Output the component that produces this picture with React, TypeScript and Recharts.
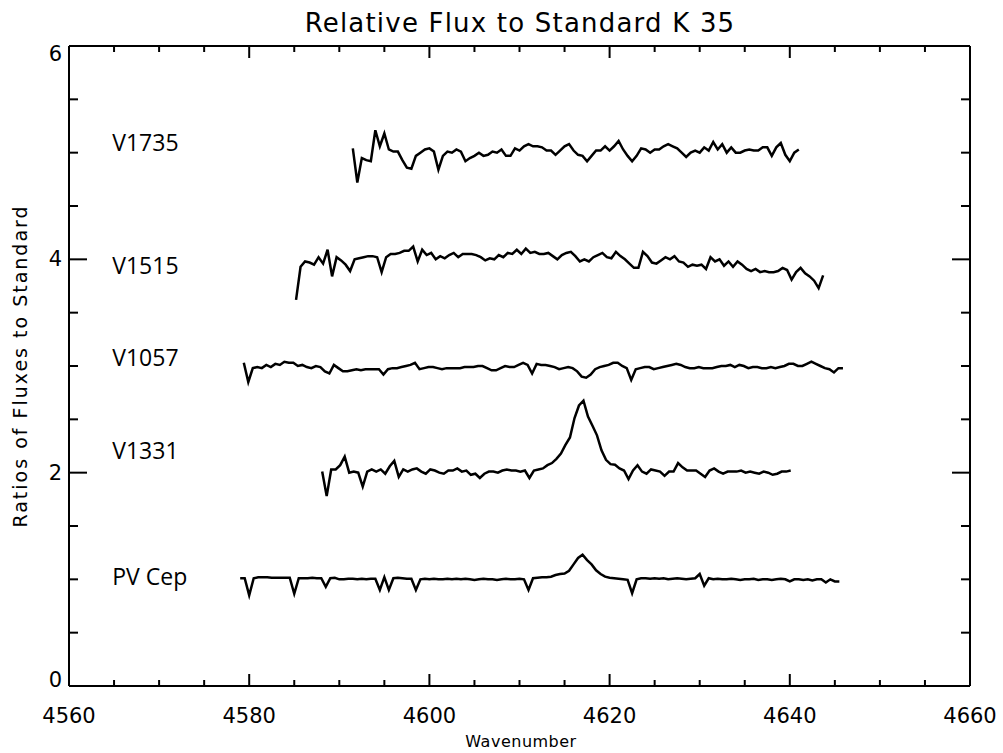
import { LineChart, Line, XAxis, YAxis, ReferenceDot } from 'recharts';

// sampling step of every spectrum (wavenumber units)
const STEP = 0.5;

const V1735_START = 4591.5;
const V1735 = [
  5.04, 4.72, 4.95, 4.93, 4.92, 5.21, 5.06, 5.18, 5.03, 5.01,
  5.01, 4.93, 4.86, 4.85, 4.97, 5.0, 5.03, 5.04, 5.01, 4.84,
  4.97, 5.01, 5.0, 5.03, 5.01, 4.92, 4.95, 4.97, 5.0, 4.97,
  4.98, 5.01, 5.0, 5.03, 4.97, 4.97, 5.04, 5.02, 5.06, 5.08,
  5.06, 5.06, 5.05, 5.02, 5.02, 4.98, 5.02, 5.06, 5.08, 5.02,
  4.98, 4.97, 4.92, 4.97, 5.02, 5.02, 5.06, 5.02, 5.06, 5.11,
  5.03, 4.97, 4.92, 4.97, 5.04, 5.03, 5.0, 5.03, 5.03, 5.06,
  5.08, 5.06, 5.04, 5.0, 4.96, 5.0, 5.02, 5.0, 5.05, 5.02,
  5.1, 5.03, 5.08, 5.0, 5.05, 5.0, 5.0, 5.02, 5.03, 5.02,
  5.02, 5.05, 5.05, 4.97, 5.05, 5.09, 4.98, 4.92, 5.0, 5.03,
];

const V1515_START = 4585.2;
const V1515 = [
  3.62, 3.93, 3.98, 3.97, 3.95, 4.02, 3.96, 4.09, 3.84, 4.02,
  3.99, 3.95, 3.89, 4.0, 4.01, 4.02, 4.03, 4.03, 4.02, 3.88,
  4.02, 4.05, 4.05, 4.06, 4.08, 4.08, 4.12, 3.98, 4.09, 4.04,
  4.06, 4.0, 4.03, 4.01, 4.04, 4.06, 4.02, 4.05, 4.05, 4.05,
  4.04, 4.02, 3.99, 4.01, 4.0, 4.04, 4.02, 4.06, 4.05, 4.09,
  4.05, 4.1, 4.06, 4.07, 4.05, 4.05, 4.06, 4.03, 4.0, 4.04,
  4.06, 4.07, 4.03, 3.98, 4.0, 3.98, 4.02, 4.04, 4.06, 4.02,
  4.01, 4.07, 4.03, 4.0, 3.96, 3.92, 3.92, 4.07, 4.03, 3.97,
  3.96, 3.99, 4.02, 4.0, 4.03, 3.98, 3.97, 3.93, 3.95, 3.94,
  3.95, 3.91, 4.02, 3.98, 4.0, 3.94, 3.98, 3.93, 3.98, 3.95,
  3.91, 3.89, 3.91, 3.88, 3.89, 3.88, 3.88, 3.89, 3.92, 3.9,
  3.81, 3.88, 3.92, 3.87, 3.84, 3.8, 3.73, 3.85,
];

const V1057_START = 4579.4;
const V1057 = [
  3.03, 2.85, 2.98, 2.99, 2.98, 3.01, 2.99, 3.02, 3.01, 3.04,
  3.03, 3.03, 3.0, 3.01, 2.99, 2.98, 3.0, 2.99, 2.95, 2.93,
  3.01, 2.98, 2.95, 2.95, 2.96, 2.97, 2.96, 2.97, 2.97, 2.97,
  2.97, 2.92, 2.97, 2.98, 2.98, 2.99, 3.0, 3.01, 3.03, 2.97,
  2.98, 2.99, 2.99, 2.98, 2.97, 2.98, 2.98, 2.98, 2.98, 2.99,
  2.99, 2.99, 3.0, 3.0, 2.98, 2.96, 2.96, 2.98, 3.0, 2.99,
  2.99, 3.01, 3.03, 3.01, 2.93, 3.02, 3.01, 3.01, 3.0, 2.99,
  2.97, 2.98, 2.99, 2.98, 2.95, 2.9, 2.89, 2.92, 2.97, 2.99,
  3.0, 3.01, 3.03, 3.03, 3.0, 2.98, 2.87, 2.97, 2.98, 2.99,
  2.99, 2.97, 2.98, 2.99, 3.0, 3.01, 3.02, 3.01, 2.99, 2.98,
  2.98, 2.99, 2.98, 2.98, 2.98, 2.99, 3.0, 3.0, 3.01, 2.99,
  3.01, 3.0, 2.98, 2.99, 2.99, 2.98, 2.98, 2.99, 2.98, 2.99,
  3.0, 3.02, 3.02, 3.0, 3.0, 3.02, 3.04, 3.02, 3.0, 2.98,
  2.97, 2.94, 2.98, 2.98,
];

const V1331_START = 4588.1;
const V1331 = [
  2.01, 1.78, 2.03, 2.03, 2.07, 2.15, 2.0, 2.01, 2.0, 1.87,
  2.01, 2.03, 2.01, 2.03, 1.99, 2.06, 2.11, 1.96, 2.03, 2.01,
  2.03, 2.04, 2.01, 1.99, 2.03, 2.02, 2.0, 1.99, 2.02, 2.02,
  2.04, 2.01, 2.02, 1.98, 1.99, 1.95, 1.99, 2.01, 2.01, 2.0,
  2.02, 2.03, 2.02, 2.02, 2.01, 2.02, 1.95, 2.02, 2.03, 2.04,
  2.07, 2.09, 2.13, 2.18, 2.26, 2.33, 2.51, 2.63, 2.675, 2.525,
  2.44, 2.35, 2.21, 2.12, 2.08, 2.075, 2.04, 2.02, 1.94, 2.02,
  2.07, 2.01, 1.99, 2.03, 2.02, 2.01, 1.97, 2.01, 2.01, 2.09,
  2.05, 2.02, 2.02, 2.02, 1.99, 1.96, 2.02, 2.04, 2.01, 1.99,
  2.01, 2.01, 2.01, 2.02, 2.0, 2.01, 2.0, 1.99, 2.01, 2.0,
  1.98, 1.99, 2.01, 2.01, 2.02,
];

const PVCEP_START = 4579.0;
const PVCEP = [
  1.01, 1.01, 0.85, 1.01, 1.02, 1.02, 1.02, 1.015, 1.015, 1.015,
  1.015, 1.015, 0.865, 1.01, 1.01, 1.01, 1.015, 1.01, 1.01, 0.93,
  1.01, 1.015, 1.0, 1.0, 1.005, 1.005, 1.0, 1.005, 1.0, 1.005,
  1.005, 0.9, 1.02, 0.9, 1.01, 1.015, 1.01, 1.005, 1.005, 0.9,
  1.0, 1.005, 1.0, 1.005, 1.0, 1.0, 1.005, 1.0, 1.005, 1.0,
  1.005, 1.0, 0.995, 1.0, 1.005, 1.0, 1.0, 0.995, 1.0, 1.005,
  1.0, 1.0, 1.005, 1.0, 0.9, 1.01, 1.015, 1.02, 1.02, 1.025,
  1.04, 1.05, 1.055, 1.08, 1.14, 1.2, 1.23, 1.18, 1.14, 1.085,
  1.05, 1.025, 1.015, 1.01, 1.005, 1.0, 0.995, 0.87, 1.0, 1.01,
  1.01, 1.005, 1.01, 1.005, 1.01, 1.0, 1.005, 1.01, 1.005, 1.0,
  1.005, 1.01, 1.05, 0.94, 1.01, 1.0, 1.005, 1.0, 1.0, 1.005,
  1.0, 0.995, 1.0, 1.0, 1.005, 0.995, 1.0, 1.0, 0.995, 1.0,
  1.005, 1.0, 0.98, 1.0, 1.0, 0.995, 1.0, 0.99, 1.0, 1.0,
  0.97, 1.0, 0.98, 0.98,
];

const STAR_NAMES = ['V1735', 'V1515', 'V1057', 'V1331', 'PV Cep'];
const LABEL_W = 4564.8;
const LABEL_Y = [5.09, 3.94, 3.08, 2.2, 1.02];

const X_TICKS = [
  4560, 4565, 4570, 4575, 4580, 4585, 4590, 4595, 4600, 4605, 4610,
  4615, 4620, 4625, 4630, 4635, 4640, 4645, 4650, 4655, 4660,
];
const Y_TICKS = [0, 0.5, 1, 1.5, 2, 2.5, 3, 3.5, 4, 4.5, 5, 5.5, 6];

const toPoints = (start: number, values: number[]) =>
  values.map((v, i) => ({ w: Math.round((start + i * STEP) * 100) / 100, v }));

const SERIES = [
  toPoints(V1735_START, V1735),
  toPoints(V1515_START, V1515),
  toPoints(V1057_START, V1057),
  toPoints(V1331_START, V1331),
  toPoints(PVCEP_START, PVCEP),
];

const AXIS_FONT = '"DejaVu Sans", sans-serif';

// the top edge ticks, drawn through a top XAxis of their own
// (Recharts skips axis ticks when the axis has no series bound to it)
const TOP_TICK_DATA = X_TICKS.map((t) => ({ w: t, v: 6 }));

// ticks point inwards, like the IDL frame; majors carry the labels
function BottomTick({ x, y, payload }: any) {
  const major = payload.value % 20 === 0;
  return (
    <g>
      <line x1={x} x2={x} y1={y} y2={y - (major ? 12 : 6)} stroke="#000" strokeWidth={2} />
      {major && (
        <text x={x} y={y + 30} textAnchor="middle" dominantBaseline="central" fontSize={21} fontFamily={AXIS_FONT} fill="#000">
          {payload.value}
        </text>
      )}
    </g>
  );
}

// top orientation: the tick anchor sits tickSize + tickMargin above the axis line
function TopTick({ x, y, payload }: any) {
  const major = payload.value % 20 === 0;
  const base = y + 4;
  return <line x1={x} x2={x} y1={base} y2={base + (major ? 12 : 6)} stroke="#000" strokeWidth={2} />;
}

function LeftTick({ x, y, payload }: any) {
  const major = payload.value % 2 === 0;
  const shift = payload.value === 6 ? 8 : payload.value === 0 ? -6 : 0;
  return (
    <g>
      <line x1={x} x2={x + (major ? 18 : 9)} y1={y} y2={y} stroke="#000" strokeWidth={2} />
      {major && (
        <text x={x - 7} y={y + shift} textAnchor="end" dominantBaseline="central" fontSize={21} fontFamily={AXIS_FONT} fill="#000">
          {payload.value}
        </text>
      )}
    </g>
  );
}

function RightTick({ x, y, payload }: any) {
  const major = payload.value % 2 === 0;
  return <line x1={x} x2={x - (major ? 18 : 9)} y1={y} y2={y} stroke="#000" strokeWidth={2} />;
}

export default function App() {
  return (
    <div style={{ position: 'absolute', left: 0, top: 0, width: 1003, height: 753, background: '#fff' }}>
      <LineChart width={1003} height={753} margin={{ top: 36, right: 23, bottom: 27, left: 29 }}>
        <XAxis
          dataKey="w" type="number" domain={[4560, 4660]} ticks={X_TICKS} interval={0}
          allowDataOverflow height={40} tickSize={0} tickMargin={0} tickLine={false}
          axisLine={{ stroke: '#000', strokeWidth: 2 }} tick={BottomTick}
        />
        <XAxis
          xAxisId="top" orientation="top" dataKey="w" type="number" domain={[4560, 4660]} ticks={X_TICKS}
          interval={0} allowDataOverflow height={10} tickSize={2} tickMargin={2} tickLine={false}
          axisLine={{ stroke: '#000', strokeWidth: 2 }} tick={TopTick}
        />
        <YAxis
          type="number" domain={[0, 6]} ticks={Y_TICKS} interval={0} allowDataOverflow width={40}
          tickSize={0} tickMargin={0} tickLine={false} axisLine={{ stroke: '#000', strokeWidth: 2 }}
          tick={LeftTick}
        />
        <YAxis
          yAxisId="right" orientation="right" type="number" domain={[0, 6]} ticks={Y_TICKS} interval={0}
          allowDataOverflow width={10} tickSize={0} tickMargin={0} tickLine={false}
          axisLine={{ stroke: '#000', strokeWidth: 2 }} tick={RightTick}
        />
        {SERIES.map((data, i) => (
          <Line
            key={STAR_NAMES[i]} data={data} dataKey="v" type="linear" stroke="#000" strokeWidth={2.5}
            dot={false} activeDot={false} isAnimationActive={false}
          />
        ))}
        {/* invisible series so the mirrored top/right axes get a domain and draw their ticks */}
        <Line
          xAxisId="top" yAxisId="right" data={TOP_TICK_DATA} dataKey="v" stroke="none" strokeWidth={0}
          dot={false} activeDot={false} isAnimationActive={false} legendType="none"
        />
        {STAR_NAMES.map((name, i) => (
          <ReferenceDot
            key={name} x={LABEL_W} y={LABEL_Y[i]} r={0} fill="none" stroke="none"
            label={{ value: name, position: 'right', offset: 0, fontSize: 23, fontFamily: '"Open Sans", sans-serif', fill: '#000' }}
          />
        ))}
      </LineChart>
      <div
        style={{
          position: 'absolute', left: 520, top: 23, transform: 'translate(-50%, -50%)',
          fontFamily: AXIS_FONT, fontSize: 26, letterSpacing: 1.2, whiteSpace: 'nowrap', pointerEvents: 'none',
        }}
      >
        Relative Flux to Standard K 35
      </div>
      <div
        style={{
          position: 'absolute', left: 521, top: 741, transform: 'translate(-50%, -50%)',
          fontFamily: AXIS_FONT, fontSize: 16, letterSpacing: 0.5, whiteSpace: 'nowrap',
        }}
      >
        Wavenumber
      </div>
      <div
        style={{
          position: 'absolute', left: 20, top: 366, transform: 'translate(-50%, -50%) rotate(-90deg)',
          fontFamily: AXIS_FONT, fontSize: 19, letterSpacing: 2, whiteSpace: 'nowrap',
        }}
      >
        Ratios of Fluxes to Standard
      </div>
    </div>
  );
}
